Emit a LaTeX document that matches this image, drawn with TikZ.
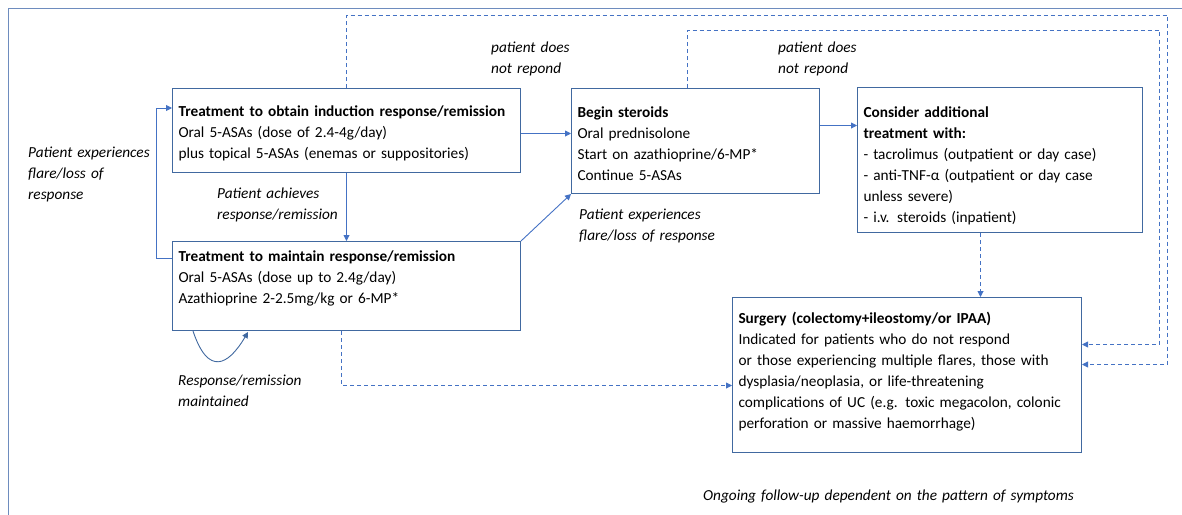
\documentclass[tikz,border=0pt]{standalone}
\usepackage{fontspec}
\setmainfont{Carlito}
\usetikzlibrary{arrows.meta}
\definecolor{boxblue}{RGB}{65,105,160}
\definecolor{arrowblue}{RGB}{68,114,196}
\definecolor{frameblue}{RGB}{110,140,190}
% invisible strut that lowers the first line of a box
\newcommand{\toppad}[1]{\rule{0pt}{#1}}
\begin{document}
\begin{tikzpicture}[x=1pt,y=-1pt,
  txt/.style={font=\fontsize{15.3}{21}\selectfont},
  box/.style={txt, draw=boxblue, line width=1pt, fill=white, anchor=north west,
    inner xsep=6pt, inner ysep=0pt, align=left},
  lab/.style={txt, anchor=base west, inner sep=0pt, align=left, text width=260pt,
    font=\fontsize{15.3}{21}\selectfont\itshape},
  flow/.style={draw=arrowblue, line width=0.9pt, -{Triangle[length=6pt,width=6pt]}},
  dflow/.style={flow, dash pattern=on 4pt off 3pt}]
\useasboundingbox (0,0) rectangle (1182,514);
% outer frame
\draw[frameblue, line width=1pt] (8,520) -- (8,8) -- (1190,8);

% boxes
\node[box, text width=336pt, minimum height=84pt] (b1) at (172,88)
  {\toppad{15.5pt}\textbf{Treatment to obtain induction response/remission}\\
   Oral 5-ASAs (dose of 2.4-4g/day)\\
   plus topical 5-ASAs (enemas or suppositories)};
\node[box, text width=336pt, minimum height=89pt] (b2) at (172,241)
  {\toppad{13.5pt}\textbf{Treatment to maintain response/remission}\\
   Oral 5-ASAs (dose up to 2.4g/day)\\
   Azathioprine 2-2.5mg/kg or 6-MP*\\ \mbox{}};
\node[box, text width=236pt, minimum height=105pt] (b3) at (571,88)
  {\toppad{15.5pt}\textbf{Begin steroids}\\
   Oral prednisolone\\
   Start on azathioprine/6-MP*\\
   Continue 5-ASAs};
\node[box, text width=273pt, minimum height=145pt] (b4) at (857,87)
  {\toppad{21.5pt}\textbf{Consider additional}\\
   \textbf{treatment with:}\\
   - tacrolimus (outpatient or day case)\\
   - anti-TNF-α (outpatient or day case\\
   unless severe)\\
   - i.v. steroids (inpatient)};
\node[box, text width=337pt, minimum height=155pt] (b5) at (732,297)
  {\toppad{15.5pt}\textbf{Surgery (colectomy+ileostomy/or IPAA)}\\
   Indicated for patients who do not respond\\
   or those experiencing multiple flares, those with\\
   dysplasia/neoplasia, or life-threatening\\
   complications of UC (e.g. toxic megacolon, colonic\\
   perforation or massive haemorrhage)\\[-8pt]\mbox{}};

% labels
\node[lab] (l1) at (491,52) {patient does\\not repond};
\node[lab] (l2) at (778,52) {patient does\\not repond};
\node[lab] (l3) at (28,157) {Patient experiences\\flare/loss of\\response};
\node[lab] (l4) at (217,198) {Patient achieves\\response/remission};
\node[lab] (l5) at (579,219) {Patient experiences\\flare/loss of response};
\node[lab] (l6) at (178,385) {Response/remission\\maintained};
\node[lab, text width=420pt] (l7) at (703,500) {Ongoing follow-up dependent on the pattern of symptoms};

% solid connectors
\draw[flow] ([yshift=-3pt]b1.east) -- ([yshift=-3pt]b1.east -| b3.west);
\draw[flow] ([yshift=15.5pt]b3.east) -- ([yshift=15.5pt]b3.east -| b4.west);
\draw[flow] (b1.south) -- (b1.south |- b2.north);
\draw[flow] (b2.north east) -- (b3.south west);
\coordinate (lc) at (156,108);
\draw[flow] ([yshift=27.5pt]b2.west) -| (lc) -- (lc -| b1.west);
\draw[flow, draw=boxblue] ([xshift=21pt]b2.south west)
  .. controls ([xshift=36pt,yshift=-45pt]b2.south west) and ([xshift=56pt,yshift=-35pt]b2.south west)
  .. ([xshift=76pt,yshift=-1pt]b2.south west);

% dashed connectors to surgery
\draw[dflow] ([xshift=-5pt]b2.south) |- ([yshift=-10.5pt]b5.west);
\draw[dflow] ([xshift=-19.5pt]b4.south) -- ([xshift=-19.5pt]b4.south |- b5.north);
\coordinate (t1) at (1167,15);
\coordinate (t2) at (1159,30);
\draw[dflow] (b1.north) |- (t1) |- ([yshift=10.5pt]b5.east);
\draw[dflow] ([xshift=-8pt]b3.north) |- (t2) |- ([yshift=30.5pt]b5.east);
\end{tikzpicture}
\end{document}
